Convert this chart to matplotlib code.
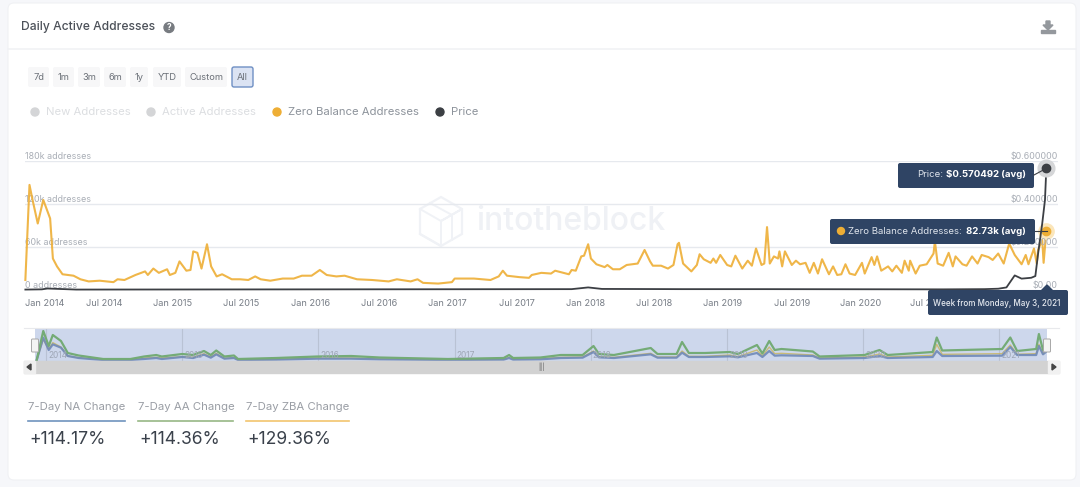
import matplotlib
matplotlib.use("Agg")
import matplotlib.pyplot as plt
from matplotlib.patches import FancyBboxPatch, Rectangle, Circle, Polygon
from matplotlib.ticker import FixedLocator
from matplotlib.transforms import ScaledTranslation

plt.rcParams['font.family'] = ['Inter', 'DejaVu Sans']

# zero balance addresses, thousands (decimal years)
zba_years = [
    2013.93, 2013.96, 2013.98, 2014.02, 2014.06, 2014.11, 2014.13, 2014.16, 2014.20, 2014.28,
    2014.33, 2014.39, 2014.47, 2014.57, 2014.60, 2014.65, 2014.73, 2014.80, 2014.82, 2014.86,
    2014.90, 2014.96, 2014.98, 2015.02, 2015.05, 2015.10, 2015.13, 2015.15, 2015.18, 2015.21,
    2015.25, 2015.28, 2015.32, 2015.36, 2015.43, 2015.49, 2015.55, 2015.60, 2015.64, 2015.71,
    2015.80, 2015.88, 2015.94, 2016.01, 2016.07, 2016.12, 2016.19, 2016.25, 2016.34, 2016.45,
    2016.57, 2016.63, 2016.73, 2016.78, 2016.82, 2016.93, 2017.03, 2017.05, 2017.19, 2017.31,
    2017.37, 2017.40, 2017.43, 2017.52, 2017.59, 2017.61, 2017.68, 2017.75, 2017.78, 2017.88,
    2017.90, 2017.93, 2017.97, 2017.99, 2018.02, 2018.04, 2018.08, 2018.14, 2018.16, 2018.20,
    2018.25, 2018.30, 2018.38, 2018.43, 2018.47, 2018.49, 2018.55, 2018.60, 2018.64, 2018.67,
    2018.68, 2018.71, 2018.77, 2018.81, 2018.83, 2018.86, 2018.91, 2018.93, 2018.95, 2018.98,
    2019.03, 2019.06, 2019.09, 2019.14, 2019.18, 2019.21, 2019.24, 2019.28, 2019.30, 2019.32,
    2019.34, 2019.37, 2019.40, 2019.41, 2019.43, 2019.45, 2019.50, 2019.53, 2019.56, 2019.60,
    2019.63, 2019.66, 2019.69, 2019.72, 2019.77, 2019.80, 2019.83, 2019.86, 2019.89, 2019.92,
    2019.96, 2020.01, 2020.03, 2020.08, 2020.10, 2020.12, 2020.15, 2020.20, 2020.23, 2020.26,
    2020.30, 2020.32, 2020.35, 2020.36, 2020.40, 2020.43, 2020.48, 2020.53, 2020.54, 2020.56,
    2020.60, 2020.64, 2020.67, 2020.69, 2020.74, 2020.77, 2020.81, 2020.85, 2020.88, 2020.93,
    2020.96, 2021.00, 2021.04, 2021.08, 2021.12, 2021.17, 2021.20, 2021.22, 2021.26, 2021.28,
    2021.29, 2021.32, 2021.33, 2021.35]
zba_values = [
    14, 147, 128, 93, 126, 100, 44, 33, 22, 20,
    15, 12, 13, 11, 15, 14, 21, 26, 21, 30,
    24, 29, 21, 24, 40, 27, 28, 54, 52, 30,
    64, 33, 19, 22, 15, 15, 14, 19, 15, 13,
    16, 16, 20, 20, 28, 21, 19, 20, 15, 14,
    12, 15, 12, 15, 10, 9, 11, 16, 16, 14,
    19, 27, 20, 18, 17, 21, 24, 23, 27, 22,
    28, 27, 47, 48, 64, 44, 36, 32, 35, 29,
    29, 35, 37, 56, 40, 34, 34, 30, 35, 64,
    66, 37, 26, 35, 50, 43, 38, 44, 38, 49,
    35, 33, 48, 30, 41, 34, 58, 35, 37, 88,
    37, 47, 44, 54, 33, 54, 35, 41, 36, 38,
    24, 38, 23, 43, 22, 33, 21, 22, 36, 23,
    21, 38, 23, 46, 35, 47, 27, 33, 26, 34,
    24, 41, 27, 41, 23, 34, 36, 51, 68, 37,
    34, 52, 33, 47, 36, 34, 47, 37, 49, 46,
    42, 51, 37, 65, 49, 36, 49, 36, 58, 37,
    56, 70, 38, 82.73]

price_years = [2013.93, 2014.05, 2014.09, 2014.30, 2017.90, 2018.02, 2018.12, 2018.70, 2019.30,
               2020.60, 2020.90, 2021.00, 2021.06, 2021.12, 2021.17, 2021.24, 2021.27, 2021.29,
               2021.32, 2021.34, 2021.35]
price_values = [0.002, 0.003, 0.007, 0.002, 0.004, 0.012, 0.005, 0.004, 0.004,
                0.003, 0.004, 0.006, 0.012, 0.068, 0.053, 0.057, 0.065, 0.17,
                0.31, 0.42, 0.570492]

# overview strip, same time axis
nav_years = [
    2013.93, 2013.98, 2014.02, 2014.05, 2014.11, 2014.16, 2014.24, 2014.42, 2014.62, 2014.72,
    2014.81, 2014.85, 2015.00, 2015.08, 2015.16, 2015.21, 2015.25, 2015.31, 2015.38, 2015.41,
    2015.69, 2015.99, 2016.24, 2016.45, 2016.95, 2017.36, 2017.40, 2017.43, 2017.63, 2017.78,
    2017.94, 2018.02, 2018.06, 2018.17, 2018.44, 2018.49, 2018.63, 2018.67, 2018.72, 2018.84,
    2019.02, 2019.08, 2019.22, 2019.26, 2019.31, 2019.35, 2019.40, 2019.63, 2019.68, 2020.01,
    2020.12, 2020.18, 2020.51, 2020.54, 2020.58, 2021.02, 2021.08, 2021.13, 2021.27, 2021.29,
    2021.32, 2021.35]
nav_active = [
    0, 180, 90, 156, 120, 48, 33, 12, 12, 27,
    36, 27, 42, 36, 60, 36, 63, 27, 33, 12,
    18, 27, 30, 21, 12, 18, 36, 18, 21, 36,
    36, 90, 42, 36, 78, 42, 42, 114, 48, 48,
    54, 42, 96, 45, 120, 66, 72, 57, 27, 36,
    66, 36, 54, 141, 63, 72, 141, 60, 72, 162,
    66, 120]
nav_new = [
    0, 140, 66, 100, 80, 30, 18, 6, 6, 12,
    18, 12, 24, 18, 38, 20, 40, 14, 18, 6,
    8, 14, 14, 10, 6, 8, 18, 8, 10, 18,
    20, 54, 22, 18, 40, 20, 20, 50, 24, 24,
    28, 22, 48, 24, 60, 32, 34, 30, 14, 18,
    30, 18, 24, 60, 30, 32, 84, 36, 36, 90,
    40, 60]
nav_zba = [
    0, 130, 70, 110, 84, 30, 20, 8, 8, 18,
    22, 18, 26, 22, 44, 24, 46, 16, 20, 8,
    10, 18, 18, 12, 8, 10, 22, 10, 14, 22,
    24, 60, 26, 22, 46, 24, 24, 60, 28, 28,
    36, 26, 66, 30, 84, 44, 46, 36, 18, 24,
    42, 24, 34, 100, 40, 44, 96, 40, 44, 100,
    44, 70]
nav_year_ticks = [2014, 2015, 2016, 2017, 2018, 2019, 2020, 2021]

x_ticks = [2014, 2014.5, 2015, 2015.5, 2016, 2016.5, 2017, 2017.5, 2018, 2018.5,
           2019, 2019.5, 2020, 2020.5]
x_labels = ['Jan 2014', 'Jul 2014', 'Jan 2015', 'Jul 2015', 'Jan 2016', 'Jul 2016', 'Jan 2017',
            'Jul 2017', 'Jan 2018', 'Jul 2018', 'Jan 2019', 'Jul 2019', 'Jan 2020', 'Jul 2020']
left_ticks = [0, 60, 120, 180]
left_labels = ['0 addresses', '60k addresses', '120k addresses', '180k addresses']
right_ticks = [0, 0.2, 0.4, 0.6]
right_labels = ['$0.00', '$0.200000', '$0.400000', '$0.600000']
buttons = ['7d', '1m', '3m', '6m', '1y', 'YTD', 'Custom', 'All']
kpi_names = ['7-Day NA Change', '7-Day AA Change', '7-Day ZBA Change']
kpi_values = ['+114.17%', '+114.36%', '+129.36%']

W, H = 1080, 487
ORANGE = '#eeae35'
DARK = '#3c3f44'
NAVY = '#2f4464'
GRID = '#e6e9ee'
LABEL = '#a9aeb6'

fig = plt.figure(figsize=(W / 100, H / 100), dpi=100, facecolor='#f6f7fa')


def px_axes(x0, y0, x1, y1, z):
    return fig.add_axes([x0 / W, 1 - y1 / H, (x1 - x0) / W, (y1 - y0) / H], zorder=z)


# background layer, pixel coordinates
bg = fig.add_axes([0, 0, 1, 1], zorder=0)
bg.set_xlim(0, W)
bg.set_ylim(H, 0)
bg.axis('off')
bg.add_patch(FancyBboxPatch((8, 3), 1068, 477, boxstyle='round,pad=0,rounding_size=6',
                            fc='white', ec='#f0f1f4', lw=0.8))
bg.plot([8, 1076], [49, 49], color='#f1f2f5', lw=1.2)
bg.text(21, 27, 'Daily Active Addresses', fontsize=8.7, color='#4c5159', va='center', fontweight='medium')
bg.add_patch(Circle((169, 27.5), 5, color='#777b80'))
bg.text(169, 27.5, '?', color='white', fontsize=6, fontweight='bold', ha='center', va='center')
bg.add_patch(Polygon([(1046, 21), (1050, 21), (1050, 25), (1053, 25), (1048, 30), (1043, 25), (1046, 25)],
                     color='#94989d'))
bg.add_patch(Rectangle((1041, 30), 14, 3, color='#94989d'))

# range buttons
btn_x = [(28, 49), (53, 74), (78, 100), (104, 126), (130, 148), (153, 181), (185, 227), (232, 253)]
for name, (a, b) in zip(buttons, btn_x):
    active = name == 'All'
    bg.add_patch(FancyBboxPatch((a, 67), b - a, 20, boxstyle='round,pad=0,rounding_size=2',
                                fc='#dbe3f3' if active else '#f7f7f8',
                                ec='#6f8fc4' if active else 'none', lw=1))
    bg.text((a + b) / 2, 77, name, fontsize=6.7, color='#6b7078', ha='center', va='center')

# legend
leg = [(35, 'New Addresses', '#d4d5d7', '#dcdee1'), (151, 'Active Addresses', '#d4d5d7', '#dcdee1'),
       (277, 'Zero Balance Addresses', ORANGE, '#8d939b'), (440, 'Price', DARK, '#8d939b')]
for x, name, dot, col in leg:
    bg.add_patch(Circle((x, 112), 4, color=dot))
    bg.text(x + 11, 112, name, fontsize=8.15, color=col, va='center')

# watermark
hexa = [(441, 197), (462, 209), (462, 234), (441, 246), (420, 234), (420, 209)]
bg.add_patch(Polygon(hexa, closed=True, fill=False, ec='#f0f2f6', lw=1.6))
bg.plot([420, 441, 462, 441, 441, 420], [209, 221, 209, 221, 246, 234], color='#f0f2f6', lw=1.4)
bg.plot([430, 452, 452], [203, 215, 240], color='#f0f2f6', lw=1.4)
bg.text(476, 222, 'intotheblock', fontsize=23, color='#eff1f5', va='center', fontweight='medium')

# main chart
YEAR_PX = 137.6
x_lo = 2014 + (25 - 35) / YEAR_PX
x_hi = 2014 + (1058 - 35) / YEAR_PX

ax = px_axes(25, 161.3, 1058, 290, 1)
ax.patch.set_alpha(0)
ax.set_xlim(x_lo, x_hi)
ax.set_ylim(0, 180)
for s in ax.spines.values():
    s.set_visible(False)
ax.set_yticks(left_ticks)
ax.set_yticklabels([])
ax.tick_params(axis='y', length=0)
ax.grid(axis='y', color=GRID, lw=1)
ax.set_axisbelow(True)
ax.set_xticks(x_ticks)
ax.set_xticklabels(x_labels, fontsize=6.6, color='#777d86')
ax.tick_params(axis='x', length=0, pad=6.5)
first = ax.get_xticklabels()[0]
first.set_ha('left')
first.set_transform(first.get_transform() + ScaledTranslation(-0.1, 0, fig.dpi_scale_trans))
for val, lab in zip(left_ticks, left_labels):
    ax.text(0, val, lab, transform=ax.get_yaxis_transform(), fontsize=6.4, color=LABEL,
            ha='left', va='bottom')
ax.plot(zba_years, zba_values, color=ORANGE, lw=1.5, alpha=0.9, clip_on=False, zorder=3)

ax2 = ax.twinx()
ax2.set_zorder(2)
ax2.patch.set_alpha(0)
ax2.set_xlim(x_lo, x_hi)
ax2.set_ylim(0, 0.6)
for s in ax2.spines.values():
    s.set_visible(False)
ax2.set_yticks(right_ticks)
ax2.set_yticklabels([])
ax2.tick_params(axis='y', length=0)
for val, lab in zip(right_ticks, right_labels):
    ax2.text(1.0, val, lab, transform=ax2.get_yaxis_transform(), fontsize=6.4, color=LABEL,
             ha='right', va='bottom')
ax2.plot(price_years, price_values, color=DARK, lw=1.3, clip_on=False, zorder=3)

# hover markers sit on the last values
ax2.plot(price_years[-1], price_values[-1], 'o', ms=12, color='#d5d6d8', zorder=4, clip_on=False)
ax2.plot(price_years[-1], price_values[-1], 'o', ms=6, color=DARK, zorder=5, clip_on=False)
ax.plot(zba_years[-1], zba_values[-1], 'o', ms=11, color='#fbe6bb', zorder=4, clip_on=False)
ax.plot(zba_years[-1], zba_values[-1], 'o', ms=6, color=ORANGE, zorder=5, clip_on=False)

# navigator
nav = px_axes(35, 328, 1047, 361, 1)
nav.set_facecolor('#cdd7ec')
nav.set_xlim(2014 + (35 - 46) / 136.2, 2014 + (1047 - 46) / 136.2)
nav.set_ylim(0, 198)
for s in nav.spines.values():
    s.set_visible(False)
nav.set_xticks(nav_year_ticks)
nav.xaxis.set_major_locator(FixedLocator(nav_year_ticks))
nav.set_xticklabels([])
nav.set_yticks([])
nav.tick_params(axis='x', length=0)
nav.grid(axis='x', color='#b9c2d4', lw=0.8)
nav.set_axisbelow(True)
for yr in nav_year_ticks:
    nav.text(yr + 0.015, 6, str(yr), fontsize=6, color='#9ea6b5', ha='left', va='bottom')
nav.plot(nav_years, nav_zba, color='#c8b45a', lw=1, alpha=0.8)
nav.plot(nav_years, nav_new, color='#6f89b8', lw=1.6, alpha=0.9)
nav.plot(nav_years, nav_active, color='#74ab76', lw=1.6)

# overlay: tooltips, scrollbar, KPI row
top = fig.add_axes([0, 0, 1, 1], zorder=5)
top.patch.set_alpha(0)
top.set_xlim(0, W)
top.set_ylim(H, 0)
top.axis('off')

top.plot([24, 1059], [328, 328], color='#e8e9ec', lw=0.8)
top.add_patch(Rectangle((24, 361), 1035, 12, color='#d2d2d2'))
top.add_patch(Rectangle((24, 361), 11, 12, color='#eeeeee'))
top.add_patch(Rectangle((1048, 361), 11, 12, color='#f1f1f1'))
top.add_patch(Polygon([(31, 364), (31, 370), (27, 367)], color='#444444'))
top.add_patch(Polygon([(1052, 364), (1052, 370), (1056, 367)], color='#444444'))
top.text(541, 367, '|||', fontsize=4.5, color='#666666', ha='center', va='center')
for x in (35, 1047):
    top.add_patch(FancyBboxPatch((x - 3.5, 339), 7, 13, boxstyle='round,pad=0,rounding_size=1',
                                 fc='#f4f4f4', ec='#a8a8a8', lw=0.7))

tip = dict(boxstyle='round,pad=0,rounding_size=2', fc=NAVY, ec='none')
top.plot([1034, 1047], [175, 168], color=DARK, lw=0.8)
top.plot([1035, 1047], [231, 231], color=DARK, lw=0.8)
top.add_patch(FancyBboxPatch((898, 163), 136, 25, **tip))
top.text(917, 174.5, 'Price:', fontsize=6.9, color='#dfe4ec', va='center')
top.text(946, 174.5, '$0.570492 (avg)', fontsize=6.9, color='white', fontweight='bold', va='center')

top.add_patch(FancyBboxPatch((830, 219), 205, 25, **tip))
top.add_patch(Circle((841, 231), 3.5, color=ORANGE))
top.text(848, 231, 'Zero Balance Addresses:', fontsize=6.9, color='#dfe4ec', va='center')
top.text(966, 231, '82.73k (avg)', fontsize=6.9, color='white', fontweight='bold', va='center')

top.add_patch(FancyBboxPatch((928, 290), 140, 25, **tip))
top.add_patch(Polygon([(1041, 291), (1047, 285), (1053, 291)], color=NAVY))
top.text(997, 303, 'Week from Monday, May 3, 2021', fontsize=5.8, color='#e6eaf0',
         fontweight='medium', ha='center', va='center')

kpi_x = [(28, 125, '#6f93bd'), (138, 233, '#97b885'), (246, 349, '#f2c56e')]
for (a, b, col), name, val in zip(kpi_x, kpi_names, kpi_values):
    top.text(a, 407, name, fontsize=8.2, color='#9a9ea5', va='center')
    top.plot([a, b], [420.5, 420.5], color=col, lw=1.2)
    top.text(a + 1, 440, val, fontsize=12.6, color='#3a414b', va='center')

fig.savefig('out.png', dpi=100, facecolor=fig.get_facecolor())
